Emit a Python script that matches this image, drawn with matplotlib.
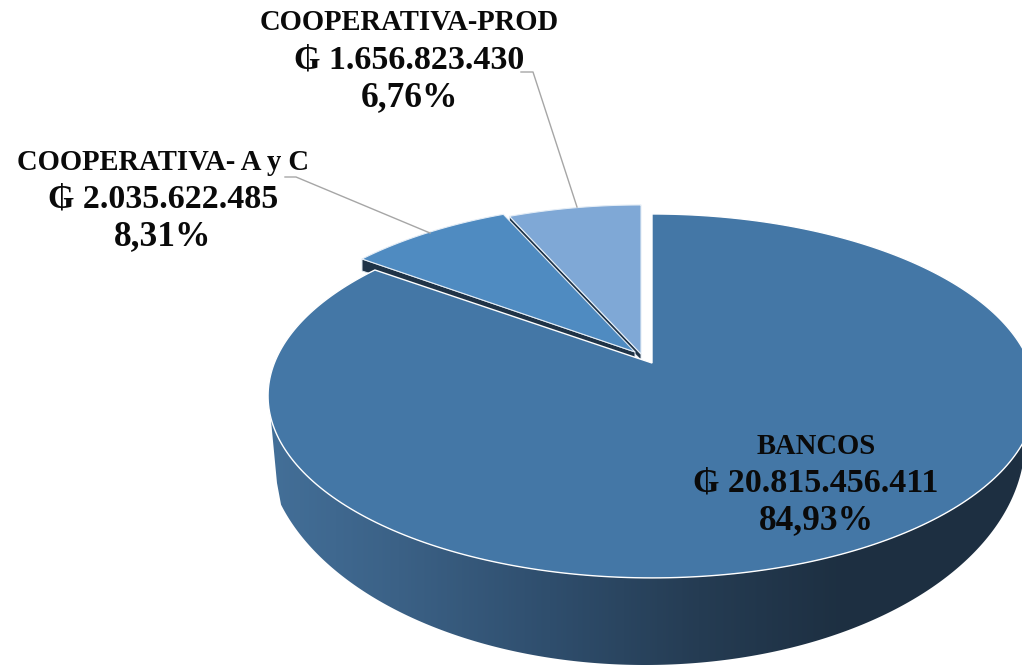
import numpy as np
import matplotlib
matplotlib.use('Agg')
import matplotlib.pyplot as plt
from matplotlib.colors import LinearSegmentedColormap
from matplotlib.patches import Polygon

plt.rcParams['font.family'] = ['Liberation Serif', 'DejaVu Serif', 'DejaVu Sans']

#### DATA
names = ['BANCOS', 'COOPERATIVA- A y C', 'COOPERATIVA-PROD']
amounts = [20815456411, 2035622485, 1656823430]
amount_labels = ['₲ 20.815.456.411', '₲ 2.035.622.485', '₲ 1.656.823.430']
pct_labels = ['84,93%', '8,31%', '6,76%']

#### STYLE
top_colors = ['#4477a6', '#4f8bc1', '#7fa8d6']
apexes = [(652, 363), (635, 352), (641, 354)]
widths = [377.6, 372, 372]
label_pos = [(816, 483), (163, 199), (409, 60)]
k, a = -0.181, 176


def project(theta, apex, b):
    # theta in degrees, clockwise from 12 o'clock, simple perspective on the disc
    t = np.radians(theta)
    u, v = np.sin(t), -np.cos(t)
    d = 1 + k * v
    return apex[0] + b * u / d, apex[1] + a * v / d


def wedge_xy(start, end, apex, b):
    x, y = project(np.linspace(start, end, 300), apex, b)
    return np.column_stack([np.r_[apex[0], x], np.r_[apex[1], y]])


fig = plt.figure(figsize=(10.22, 6.65), dpi=100)
ax = fig.add_axes([0, 0, 1, 1])

fractions = np.array(amounts) / sum(amounts)
edges = np.r_[0, np.cumsum(fractions)] * 360

# front wall with the left to right shading
top_x, top_y = project(np.linspace(253, 100, 300), apexes[0], widths[0])
phi = np.radians(np.linspace(-5, 165, 300))
base_x, base_y = 645 + 380 * np.cos(phi), 440 + 225 * np.sin(phi)
keep = base_x >= 280
wall = np.column_stack([np.r_[top_x, base_x[keep], 277], np.r_[top_y, base_y[keep], 483]])
shade = LinearSegmentedColormap.from_list('wall', [(0, '#436f98'), (0.17, '#3b6186'), (0.37, '#2f4e6d'),
                                                  (0.57, '#253c53'), (0.77, '#1d2f41'), (1, '#1e3042')])
im = ax.imshow(np.linspace(0, 1, 400).reshape(1, -1), cmap=shade, extent=(270, 1022, 665, 200),
               aspect='auto', zorder=1)
im.set_clip_path(Polygon(wall, closed=True, transform=ax.transData))

# small slices, far one first, each with the dark wall below its edge
for i in [2, 1]:
    pts = wedge_xy(edges[i], edges[i + 1], apexes[i], widths[i])
    x0, y0 = project(edges[i], apexes[i], widths[i])
    ex, ey = apexes[i]
    ax.fill([x0, ex, ex, x0], [y0, ey, ey + 6, y0 + 12], color='#1f3347', ec='#dfe7ef', lw=0.7, zorder=2)
    ax.add_patch(Polygon(pts, closed=True, fc=top_colors[i], ec='#e4edf6', lw=0.8, zorder=3))

# big slice on top
ax.add_patch(Polygon(wedge_xy(edges[0], edges[1], apexes[0], widths[0]), closed=True, fc=top_colors[0],
                     ec='white', lw=1.0, zorder=4))

# leader lines
ax.plot([521, 533, 577], [72, 72, 207], color='#a6a6a6', lw=1.0, zorder=5)
ax.plot([285, 296, 430], [177, 177, 233], color='#a6a6a6', lw=1.0, zorder=5)

# the name line is narrower than the amount and percent lines in the reference
for i in range(3):
    x, y = label_pos[i]
    ax.text(x, y - 37, names[i], ha='center', va='center', fontsize=20.6, fontweight='bold',
            color='#0a0a0a', zorder=6)
    ax.text(x, y, amount_labels[i], ha='center', va='center', fontsize=24.5, fontweight='bold',
            color='#0a0a0a', zorder=6)
    ax.text(x, y + 38, pct_labels[i], ha='center', va='center', fontsize=25.5, fontweight='bold',
            color='#0a0a0a', zorder=6)

ax.set_xlim(0, 1022)
ax.set_ylim(665, 0)
ax.axis('off')
fig.savefig('out.png', dpi=100, facecolor='white')
